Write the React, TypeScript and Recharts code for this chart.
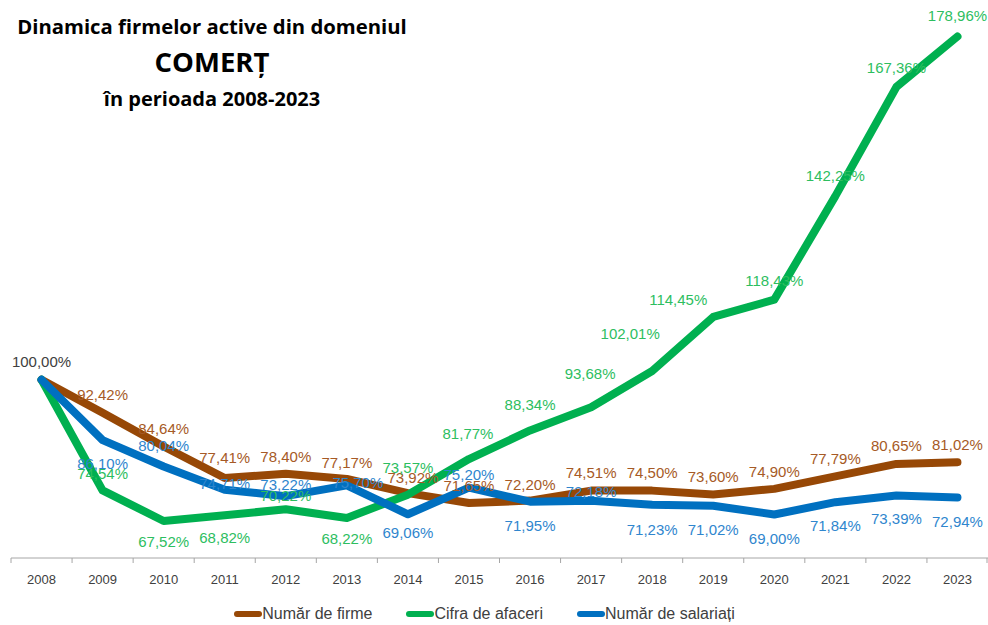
import React from 'react';
import { LineChart, Line, XAxis, YAxis, LabelList, Legend } from 'recharts';

const years = ['2008', '2009', '2010', '2011', '2012', '2013', '2014', '2015', '2016', '2017', '2018', '2019', '2020', '2021', '2022', '2023'];
const firme = [100, 92.42, 84.64, 77.41, 78.4, 77.17, 73.92, 71.65, 72.2, 74.51, 74.5, 73.6, 74.9, 77.79, 80.65, 81.02];
const cifra = [100, 74.54, 67.52, 68.82, 70.22, 68.22, 73.57, 81.77, 88.34, 93.68, 102.01, 114.45, 118.43, 142.25, 167.36, 178.96];
const salariati = [100, 86.1, 80.04, 74.71, 73.22, 75.7, 69.06, 75.2, 71.95, 72.18, 71.23, 71.02, 69.0, 71.84, 73.39, 72.94];

const seriesNames = ['Număr de firme', 'Cifra de afaceri', 'Număr de salariați'];

// label placement (offsets from point), kept apart from data
const firmeDy = [-18, -18, -18, -20, -17, -17, -16, -18, -16, -18, -18, -18, -17, -18, -18, -18];
const firmeDx = [0, 0, 0, 0, 0, 0, 5, 0, 0, 0, 0, 0, 0, 0, 0, 0];
const cifraDy = [null, -17, 21, 22, -14, 21, -27, -26, -26, -34, -38, -17, -19, -21, -19, -21];
const cifraDx = [0, 0, 0, 0, 0, 0, 0, -1, 0, -1, -22, -35, 0, 0, 0, 0];
const salDy = [null, 23, -21, -6, -12, -3, 18, -13, 24, -9, 25, 24, 24, 23, 23, 24];
const salDx = [0, 0, 0, 0, 0, 11, 0, 0, 0, 0, 0, 0, 0, 0, 0, 0];

const data = years.map((y, i) => ({ year: y, firme: firme[i], cifra: cifra[i], salariati: salariati[i] }));

const BROWN = '#974806';
const GREEN = '#00B050';
const BLUE = '#0070C0';
const BROWN_T = '#A65A26';
const GREEN_T = '#2DBE5F';
const BLUE_T = '#2F86CE';

const fmt = (v: number) => v.toFixed(2).replace('.', ',') + '%';

const makeLabel = (dxs: number[], dys: (number | null)[], color: string, firstColor?: string) => (props: any) => {
  const { x, y, value, index } = props;
  const dy = dys[index];
  if (dy === null || dy === undefined) return null;
  const c = index === 0 && firstColor ? firstColor : color;
  return (
    <text
      x={x + dxs[index]}
      y={y + dy}
      fill={c}
      fontSize={15}
      fontFamily="'Liberation Sans', Arial, sans-serif"
      textAnchor="middle"
      dominantBaseline="central"
    >
      {fmt(value)}
    </text>
  );
};

const W = 988;
const H = 625;
const ML = 11;
const MR = 0;
const BAND = (W - ML - MR) / years.length;

const Tick = (props: any) => {
  const { x, y, payload, index } = props;
  return (
    <g>
      <line x1={x - BAND / 2} x2={x - BAND / 2} y1={y} y2={y + 5} stroke="#a6a6a6" strokeWidth={1} />
      {index === years.length - 1 && (
        <line x1={x + BAND / 2 - 1} x2={x + BAND / 2 - 1} y1={y} y2={y + 5} stroke="#a6a6a6" strokeWidth={1} />
      )}
      <text
        x={x}
        y={y + 21}
        textAnchor="middle"
        dominantBaseline="central"
        fontSize={13}
        fill="#404040"
        fontFamily="'Liberation Sans', Arial, sans-serif"
      >
        {payload.value}
      </text>
    </g>
  );
};

const legendItems = [
  { name: seriesNames[0], color: BROWN },
  { name: seriesNames[1], color: GREEN },
  { name: seriesNames[2], color: BLUE },
];

const LegendContent = () => (
  <div
    style={{
      display: 'flex',
      justifyContent: 'center',
      alignItems: 'center',
      height: 30,
      paddingTop: 21,
      paddingRight: 30,
      boxSizing: 'border-box',
      gap: 34,
      fontFamily: "'Liberation Sans', Arial, sans-serif",
      fontSize: 16,
      color: '#404040',
    }}
  >
    {legendItems.map((it) => (
      <div key={it.name} style={{ display: 'flex', alignItems: 'center' }}>
        <span style={{ display: 'inline-block', width: 28, height: 6, borderRadius: 3, background: it.color }} />
        <span>{it.name}</span>
      </div>
    ))}
  </div>
);

const titleFont = "'Open Sans', 'Liberation Sans', Arial, sans-serif";

export default function App() {
  return (
    <div style={{ position: 'absolute', left: 0, top: 0, width: W, height: H, background: '#fff' }}>
      <LineChart width={W} height={H} data={data} margin={{ top: 32, right: MR, left: ML, bottom: 7 }}>
        <XAxis
          dataKey="year"
          height={30}
          padding={{ left: BAND / 2, right: BAND / 2 }}
          axisLine={{ stroke: '#a6a6a6' }}
          tickLine={false}
          tickSize={0}
          tickMargin={0}
          interval={0}
          tick={<Tick />}
        />
        <YAxis hide domain={[59, 180]} />
        <Legend verticalAlign="bottom" height={30} content={<LegendContent />} />
        <Line
          dataKey="firme"
          name={seriesNames[0]}
          stroke={BROWN}
          strokeWidth={8}
          strokeLinejoin="round"
          strokeLinecap="round"
          dot={false}
          isAnimationActive={false}
        >
          <LabelList dataKey="firme" content={makeLabel(firmeDx, firmeDy, BROWN_T, '#404040')} />
        </Line>
        <Line
          dataKey="cifra"
          name={seriesNames[1]}
          stroke={GREEN}
          strokeWidth={8}
          strokeLinejoin="round"
          strokeLinecap="round"
          dot={false}
          isAnimationActive={false}
        >
          <LabelList dataKey="cifra" content={makeLabel(cifraDx, cifraDy, GREEN_T)} />
        </Line>
        <Line
          dataKey="salariati"
          name={seriesNames[2]}
          stroke={BLUE}
          strokeWidth={8}
          strokeLinejoin="round"
          strokeLinecap="round"
          dot={false}
          isAnimationActive={false}
        >
          <LabelList dataKey="salariati" content={makeLabel(salDx, salDy, BLUE_T)} />
        </Line>
      </LineChart>
      <div
        style={{
          position: 'absolute',
          left: 12,
          width: 400,
          top: 10,
          textAlign: 'center',
          fontFamily: titleFont,
          fontWeight: 700,
          color: '#000',
        }}
      >
        <div style={{ fontSize: 20.3, lineHeight: '32px' }}>Dinamica firmelor active din domeniul</div>
        <div style={{ fontSize: 27.5, lineHeight: '40px' }}>COMERȚ</div>
        <div style={{ fontSize: 20, lineHeight: '34px' }}>în perioada 2008-2023</div>
      </div>
    </div>
  );
}
